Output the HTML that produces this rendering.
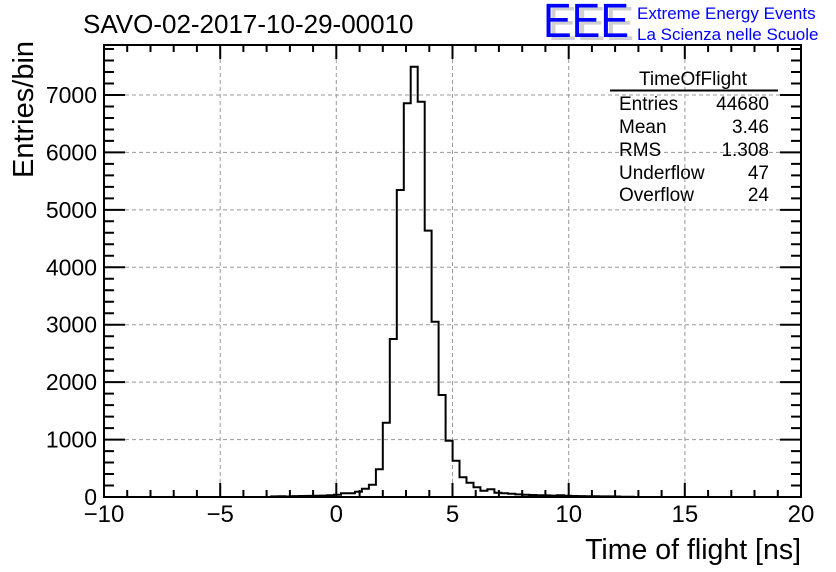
<!DOCTYPE html>
<html><head><meta charset="utf-8"><style>
html,body{margin:0;padding:0;background:#fff}
svg{display:block;font-family:"Liberation Sans",sans-serif}
</style></head><body>
<svg width="836" height="572" viewBox="0 0 836 572" xmlns="http://www.w3.org/2000/svg">
<rect width="836" height="572" fill="#fff"/>
<path stroke="#999" stroke-width="1" stroke-dasharray="4,3" fill="none" d="M220.2 45V497M336.3 45V497M452.5 45V497M568.7 45V497M684.9 45V497M104 439.6H801M104 382.1H801M104 324.7H801M104 267.3H801M104 209.9H801M104 152.4H801M104 95H801"/>
<path stroke="#000" stroke-width="2" fill="none" d="
M127.2 497v-7M150.5 497v-7M173.7 497v-7M196.9 497v-7M220.2 497v-14M243.4 497v-7M266.6 497v-7M289.9 497v-7M313.1 497v-7M336.3 497v-14M359.6 497v-7M382.8 497v-7M406 497v-7M429.3 497v-7M452.5 497v-14M475.7 497v-7M498.9 497v-7M522.2 497v-7M545.4 497v-7M568.7 497v-14M591.9 497v-7M615.1 497v-7M638.4 497v-7M661.6 497v-7M684.8 497v-14M708.1 497v-7M731.3 497v-7M754.5 497v-7M777.8 497v-7
M127.2 45v7M150.5 45v7M173.7 45v7M196.9 45v7M220.2 45v14M243.4 45v7M266.6 45v7M289.9 45v7M313.1 45v7M336.3 45v14M359.6 45v7M382.8 45v7M406 45v7M429.3 45v7M452.5 45v14M475.7 45v7M498.9 45v7M522.2 45v7M545.4 45v7M568.7 45v14M591.9 45v7M615.1 45v7M638.4 45v7M661.6 45v7M684.8 45v14M708.1 45v7M731.3 45v7M754.5 45v7M777.8 45v7
M104 485.5h10M104 474h10M104 462.5h10M104 451.1h10M104 439.6h21M104 428.1h10M104 416.6h10M104 405.1h10M104 393.6h10M104 382.1h21M104 370.7h10M104 359.2h10M104 347.7h10M104 336.2h10M104 324.7h21M104 313.2h10M104 301.7h10M104 290.3h10M104 278.8h10M104 267.3h21M104 255.8h10M104 244.3h10M104 232.8h10M104 221.3h10M104 209.9h21M104 198.4h10M104 186.9h10M104 175.4h10M104 163.9h10M104 152.4h21M104 140.9h10M104 129.5h10M104 118h10M104 106.5h10M104 95h21M104 83.5h10M104 72h10M104 60.5h10M104 49h10
M801 485.5h-10M801 474h-10M801 462.5h-10M801 451.1h-10M801 439.6h-21M801 428.1h-10M801 416.6h-10M801 405.1h-10M801 393.6h-10M801 382.1h-21M801 370.7h-10M801 359.2h-10M801 347.7h-10M801 336.2h-10M801 324.7h-21M801 313.2h-10M801 301.7h-10M801 290.3h-10M801 278.8h-10M801 267.3h-21M801 255.8h-10M801 244.3h-10M801 232.8h-10M801 221.3h-10M801 209.9h-21M801 198.4h-10M801 186.9h-10M801 175.4h-10M801 163.9h-10M801 152.4h-21M801 140.9h-10M801 129.5h-10M801 118h-10M801 106.5h-10M801 95h-21M801 83.5h-10M801 72h-10M801 60.5h-10M801 49h-10"/>
<path fill="none" stroke="#000" stroke-width="2" d="M104 497H271.3V496.4H278.3V496.3H285.2V496.5H292.2V496.1H299.2V496H306.2V495.9H313.1V495.7H320.1V495.6H327.1V495.3H334V494.7H341V493.3H355V491.7H361.9V488.7H368.9V484.7H375.9V469.3H382.8V422.7H389.8V339H396.8V190H403.8V103.3H410.7V66.7H417.7V101.7H424.7V230.6H431.6V321.7H438.6V395H445.6V440.7H452.6V460.7H459.5V477.3H466.5V482.7H473.5V487.3H480.4V490.7H487.4V489.3H494.4V492.7H501.4V493.3H508.3V493.8H515.3V494.4H522.3V494.7H529.2V495H536.2V495.3H543.2V495.4H550.2V495.6H557.1V495.3H564.1V495.7H571.1V496H578V496.1H585V496.2H592V496.3H599V496.4H612.9V496.5H619.9V496.7H633.8V497H801"/>
<rect x="104" y="45" width="697" height="452" fill="none" stroke="#000" stroke-width="2"/>
<g font-size="24" fill="#000" text-anchor="middle">
<text x="104" y="522">−10</text><text x="220.2" y="522">−5</text><text x="336.3" y="522">0</text><text x="452.5" y="522">5</text><text x="568.7" y="522">10</text><text x="684.9" y="522">15</text><text x="801" y="522">20</text>
</g>
<g font-size="23" fill="#000" text-anchor="end">
<text x="97" y="505">0</text><text x="97" y="447.6">1000</text><text x="97" y="390.1">2000</text><text x="97" y="332.7">3000</text><text x="97" y="275.3">4000</text><text x="97" y="217.9">5000</text><text x="97" y="160.4">6000</text><text x="97" y="103">7000</text>
</g>
<text x="83" y="33" font-size="26">SAVO-02-2017-10-29-00010</text>
<g font-size="48">
<text x="548" y="40" fill="#d0d0d0" textLength="86" lengthAdjust="spacingAndGlyphs">EEE</text>
<text x="543" y="37" fill="#0000ff" textLength="86" lengthAdjust="spacingAndGlyphs">EEE</text>
</g>
<text x="637" y="19" font-size="17" fill="#0000ff">Extreme Energy Events</text>
<text x="637" y="40" font-size="17" fill="#0000ff">La Scienza nelle Scuole</text>
<text x="801" y="559" font-size="28.5" text-anchor="end">Time of flight [ns]</text>
<text transform="translate(33,178) rotate(-90)" font-size="29">Entries/bin</text>
<g font-size="19">
<text x="693" y="85" text-anchor="middle">TimeOfFlight</text>
<line x1="610" y1="90.5" x2="778" y2="90.5" stroke="#000" stroke-width="2"/>
<text x="619" y="110">Entries</text><text x="769" y="110" text-anchor="end">44680</text>
<text x="619" y="133">Mean</text><text x="769" y="133" text-anchor="end">3.46</text>
<text x="619" y="156">RMS</text><text x="769" y="156" text-anchor="end">1.308</text>
<text x="619" y="179">Underflow</text><text x="769" y="179" text-anchor="end">47</text>
<text x="619" y="201">Overflow</text><text x="769" y="201" text-anchor="end">24</text>
</g>
</svg>
</body></html>
